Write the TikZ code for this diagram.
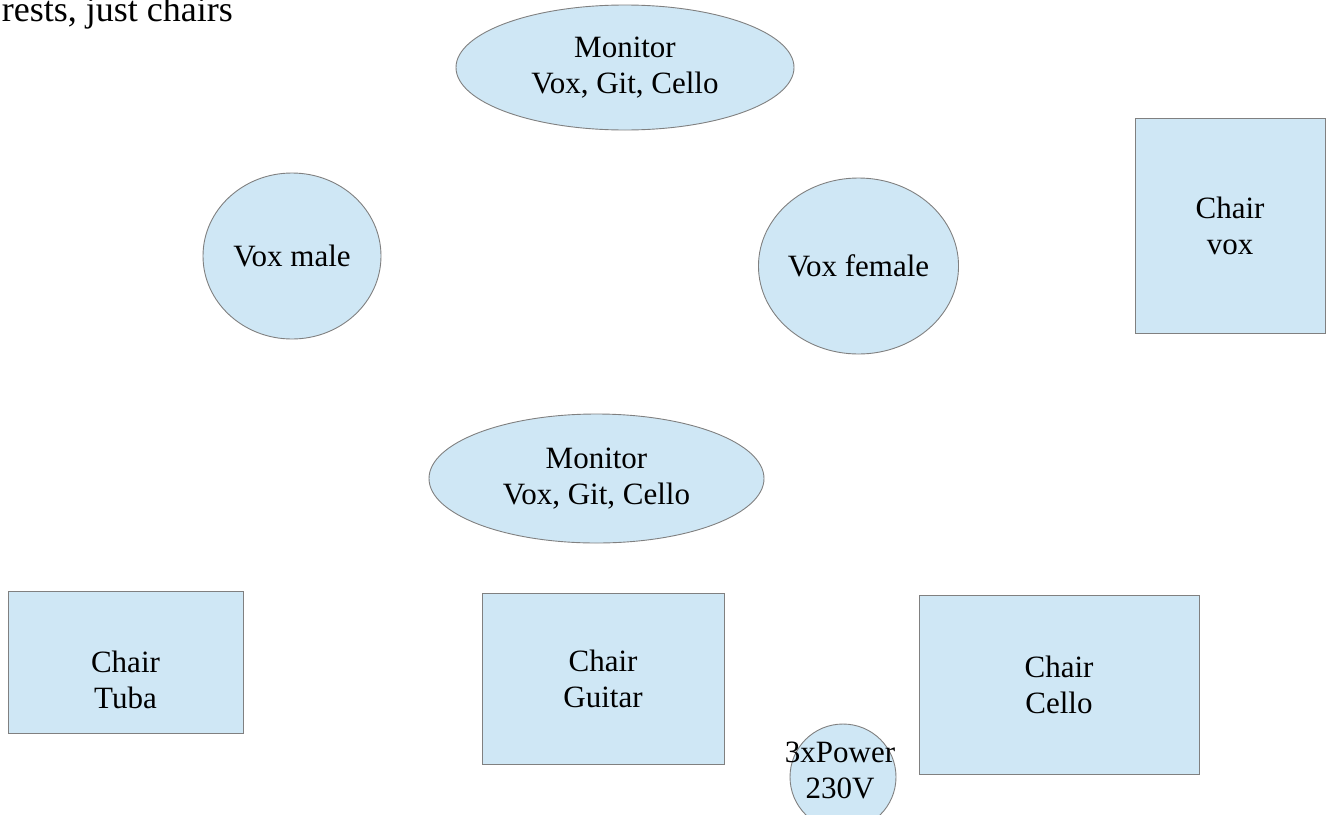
\documentclass[tikz,border=0pt]{standalone}
\usepackage{fontspec}
\setmainfont{Liberation Serif}
\usetikzlibrary{shapes.geometric}
\definecolor{shapefill}{HTML}{CFE7F5}
\definecolor{shapeline}{HTML}{808080}
\tikzset{
  txt/.style={font=\fontsize{31}{36}\selectfont, align=center, text=black, inner sep=0pt},
  ovalshape/.style={ellipse, draw=shapeline, fill=shapefill, line width=0.9pt, inner sep=0pt, outer sep=0pt, txt},
  boxshape/.style={rectangle, draw=shapeline, fill=shapefill, line width=0.9pt, inner sep=0pt, outer sep=0pt, txt},
  notetxt/.style={font=\fontsize{36}{40}\selectfont, inner sep=0pt, text=black}
}
\begin{document}
\begin{tikzpicture}[x=1pt,y=-1pt]
\useasboundingbox (0,0) rectangle (1329,814);
\clip (0,0) rectangle (1329,814);
% note at top left (cut off in the original)
\node[notetxt, anchor=base east] (note) at (233,21) {rests, just chairs};
% monitors
\node[ovalshape, minimum width=338, minimum height=125] (montop) at (625,67.5) {Monitor\\Vox, Git, Cello};
\node[ovalshape, minimum width=335, minimum height=129] (monbot) at (596.5,478.5) {Monitor\\Vox, Git, Cello};
% vocalists
\node[ovalshape, minimum width=178, minimum height=166] (voxmale) at (292,256) {Vox male};
\node[ovalshape, minimum width=195, minimum height=176] (voxfemale) at (858.5,266) {Vox female};
% chairs
\node[boxshape, minimum width=190, minimum height=215] (chairvox) at (1230,225.5) {Chair\\vox};
\node[boxshape, minimum width=235, minimum height=142] (chairtuba) at (125.5,662) {};
\node[txt] (tubatxt) at (125.5,680) {Chair\\Tuba};
\node[boxshape, minimum width=242, minimum height=171] (chairguitar) at (603,678.5) {Chair\\Guitar};
\node[boxshape, minimum width=280, minimum height=179] (chaircello) at (1059,684.5) {Chair\\Cello};
% power
\node[ovalshape, minimum width=106, minimum height=106] (power) at (843,777) {};
\node[txt] (powertxt) at (840,770) {3xPower\\230V};
\end{tikzpicture}
\end{document}
